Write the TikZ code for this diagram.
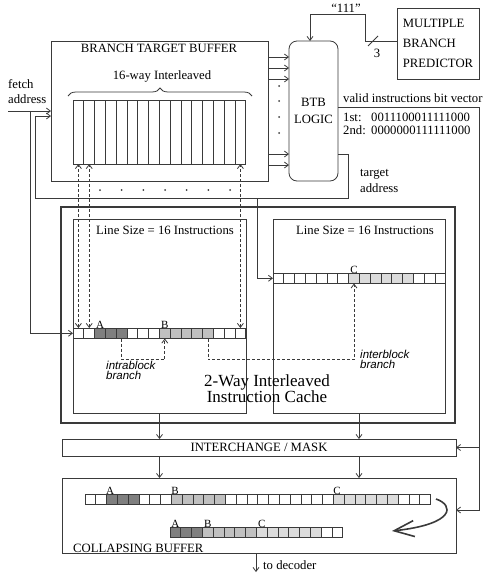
\documentclass[tikz,border=0pt]{standalone}
\usepackage{fontspec}
\setmainfont{Liberation Serif}
\newfontfamily\brfont{Liberation Sans}
\usetikzlibrary{arrows.meta,positioning,decorations.pathreplacing}
\definecolor{ln}{HTML}{3A3A3A}
\definecolor{cA}{HTML}{7F7F7F}
\definecolor{cB}{HTML}{C0C0C0}
\definecolor{cC}{HTML}{DCDCDC}
\tikzset{
  box/.style={rectangle, draw=ln, line width=0.8pt, inner sep=0pt, outer sep=0pt,
              anchor=north west, align=center},
  thickbox/.style={box, line width=2.6pt},
  logicbox/.style={box, rounded corners=8pt},
  rowbox/.style={box, draw=none, minimum width=172.8, minimum height=10.5},
  fl/.style={draw=ln, line width=0.8pt, -{Straight Barb[length=4pt,width=6pt]}},
  dfl/.style={draw=ln, line width=0.8pt, dash pattern=on 3pt off 2pt,
              {Straight Barb[length=4pt,width=6pt]}-{Straight Barb[length=4pt,width=6pt]}},
  dl/.style={draw=ln, line width=0.8pt, dash pattern=on 3pt off 2pt,
             -{Straight Barb[length=4pt,width=6pt]}},
  tag/.style={font=\fontsize{11}{11}\selectfont, inner sep=0pt, anchor=south},
  lbl/.style={inner sep=0pt, anchor=west, align=left},
  br/.style={lbl, font=\brfont\itshape\fontsize{11.5}{10}\selectfont},
  swoosh/.style={draw=ln, line width=1.6pt, -{Straight Barb[length=20pt,width=16pt]}}
}
\newcommand{\instrrow}[3]{% left x, top y, cell colours
  \foreach \c [count=\k from 0] in {#3}
    \draw[draw=ln, line width=0.8pt, fill=\c] (#1+\k*10.8, #2) rectangle ++(10.8, 10.5);
}

\begin{document}
\begin{tikzpicture}[x=1pt, y=-1pt, font=\fontsize{12.7}{14}\selectfont]
  \useasboundingbox (0,0) rectangle (486,573);
  % branch target buffer, logic, predictor
  \node[box, minimum width=217, minimum height=140] (btb) at (51,41) {};
  \node[anchor=base, inner sep=0pt] (btbname) at (159,52.5) {BRANCH TARGET BUFFER};
  \node[anchor=base, inner sep=0pt] (ways) at (162,79) {16-way Interleaved};
  \draw[ln, line width=0.8pt, decorate, decoration={brace, amplitude=8pt}] (68,96) -- (252,96);
  \node[box, minimum width=172.8, minimum height=64] (btbarr) at (73,100) {};
  \foreach \k in {1,...,15}
    \draw[ln, line width=0.8pt] ([xshift=\k*10.8pt]btbarr.north west) -- ([xshift=\k*10.8pt]btbarr.south west);
  \node[logicbox, minimum width=49, minimum height=140, font=\fontsize{12.7}{17}\selectfont] (logic) at (289,41) {BTB\\LOGIC};
  \node[box, minimum width=82, minimum height=71, align=left, font=\fontsize{12.7}{20}\selectfont] (mbp) at (397,8) {MULTIPLE\\BRANCH\\PREDICTOR};
  \foreach \y in {57,68,79,154,165}
    \draw[fl] ([yshift={(111-\y)*1pt}]btb.east) -- ([yshift={(111-\y)*1pt}]logic.west);
  \foreach \y in {86,101,117,133} \fill[ln] (279,\y) circle (1);
  \foreach \k in {0,...,6} \fill[ln] ({100+21.67*\k},190) circle (1);

  % prediction bus
  \coordinate (bus) at (310,14);
  \draw[fl] ([yshift=2.5pt]mbp.west) -| (365,14) -- (bus) -- (bus |- logic.north);
  \draw[ln, line width=0.8pt] (368,46) -- (378,36);
  \node[inner sep=0pt] (three) at (377,53) {3};
  \node[inner sep=0pt] (ones) at (346,8) {``111''};

  % instruction cache
  \node[thickbox, minimum width=394, minimum height=216] (cache) at (61,207) {};
  \node[box, minimum width=173, minimum height=194] (bankA) at (73,219) {};
  \node[box, minimum width=172, minimum height=194] (bankB) at (273,219) {};
  \node[anchor=base, inner sep=0pt] (lsA) at (165,234) {Line Size = 16 Instructions};
  \node[anchor=base, inner sep=0pt] (lsB) at (365,234) {Line Size = 16 Instructions};
  \node[rowbox] (rowA) at (73,328) {};
  \instrrow{73}{328}{white,white,cA,cA,cA,white,white,white,cB,cB,cB,cB,cB,white,white,white}
  \node[rowbox] (rowB) at (273,273) {};
  \instrrow{273}{273}{white,white,white,white,white,white,white,cC,cC,cC,cC,cC,cC,white,white,white}
  \node[tag] (tA) at (100,328.5) {A};
  \node[tag] (tB) at (164.8,328.5) {B};
  \node[tag] (tC) at (354,273.5) {C};
  \node[inner sep=0pt, align=center, font=\fontsize{17}{16}\selectfont] (cachelbl) at (267,389) {2-Way Interleaved\\Instruction Cache};

  \foreach \dx in {5.4,16.2,167.4}
    \draw[dfl] ([xshift={\dx*1pt}]rowA.north west) -- ([xshift={\dx*1pt}]btbarr.south west);
  \draw[dl] ([xshift=48.6pt]rowA.south west) -- ++(0,21) -| ([xshift=91.8pt]rowA.south west);
  \draw[dl] ([xshift=135pt]rowA.south west) -- ++(0,21) -| ([xshift=81pt]rowB.south west);
  \node[br] (intra) at (106,370) {intrablock\\branch};
  \node[br] (inter) at (360,359.5) {interblock\\branch};

  % fetch and target addresses
  \node[lbl, font=\fontsize{12.7}{15}\selectfont] (fetchlbl) at (8,92) {fetch\\address};
  \coordinate (fetch) at (8,111);
  \draw[fl] (fetch) -- (fetch -| btb.west);
  \coordinate (fsplit) at (30,111);
  \draw[fl] (fsplit) |- (rowA.west);
  \draw[fl] ([yshift=-43pt]logic.east) -- ++(10,0) |- (35,198) |- ([yshift=-5pt]btb.west);
  \coordinate (tsplit) at (257,198);
  \draw[fl] (tsplit) |- (rowB.west);
  \node[lbl, font=\fontsize{12.7}{16}\selectfont] (tgtlbl) at (360,181) {target\\address};

  % interchange and collapsing buffer
  \node[box, minimum width=394, minimum height=17] (mask) at (62,439) {INTERCHANGE / MASK};
  \node[box, minimum width=394, minimum height=75] (collapse) at (62,478) {};
  \node[anchor=base west, inner sep=0pt] (cblbl) at (73,552) {COLLAPSING BUFFER};
  \node[rowbox, minimum width=345.6] (rowC) at (85,494) {};
  \instrrow{85}{494}{white,white,cA,cA,cA,white,white,white,cB,cB,cB,cB,cB,white,white,white,white,white,white,white,white,white,white,cC,cC,cC,cC,cC,cC,white,white,white}
  \node[rowbox] (rowD) at (170,527) {};
  \instrrow{170}{527}{cA,cA,cA,cB,cB,cB,cB,cB,cC,cC,cC,cC,cC,cC,white,white}
  \node[tag] (tA2) at (110,494.5) {A};
  \node[tag] (tB2) at (175,494.5) {B};
  \node[tag] (tC2) at (337,494.5) {C};
  \node[tag] (tA3) at (175.4,527.5) {A};
  \node[tag] (tB3) at (207.8,527.5) {B};
  \node[tag] (tC3) at (261.8,527.5) {C};
  \draw[swoosh] (436,499) .. controls (454,505) and (456,524) .. (392,531);

  \draw[fl] (bankA.south) -- (bankA.south |- mask.north);
  \draw[fl] (bankB.south) -- (bankB.south |- mask.north);
  \draw[fl] (bankA.south |- mask.south) -- (bankA.south |- collapse.north);
  \draw[fl] (bankB.south |- mask.south) -- (bankB.south |- collapse.north);

  % valid instructions bit vector
  \node[lbl] (vlbl) at (343,98) {valid instructions bit vector};
  \node[lbl, font=\fontsize{12.7}{12.5}\selectfont] (bits) at (343,124)
    {\makebox[28pt][l]{1st:}0011100011111000\\\makebox[28pt][l]{2nd:}0000000111111000};
  \coordinate (vr) at (479,107);
  \draw[fl] ([yshift=4pt]logic.east) -- (vr) |- ([yshift=5.5pt]collapse.east);
  \draw[fl] (vr |- mask.east) -- (mask.east);

  % to decoder
  \draw[fl] ([xshift=-3pt]collapse.south) -- ++(0,19);
  \node[lbl] (todec) at (263,565) {to decoder};
\end{tikzpicture}
\end{document}
